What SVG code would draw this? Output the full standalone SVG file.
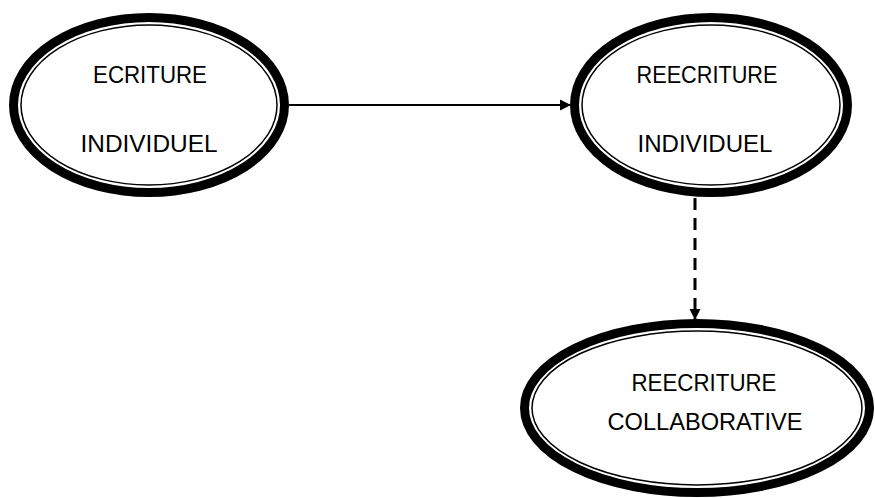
<svg xmlns="http://www.w3.org/2000/svg" width="875" height="498" viewBox="0 0 875 498">
<style>
.outer{fill:#fff;stroke:#000;stroke-width:9}
.inner{fill:none;stroke:#000;stroke-width:1.5}
.lbl{font-family:"Liberation Sans",Arial,sans-serif;font-size:24px;fill:#000;text-anchor:middle}
.conn{fill:none;stroke:#000;stroke-width:2}
</style>
<defs>
<marker id="ah" viewBox="0 0 10 10" refX="10" refY="5" markerWidth="11" markerHeight="12" markerUnits="userSpaceOnUse" orient="auto">
<path d="M0,0 L10,5 L0,10 z" fill="#000"/>
</marker>
<marker id="ah2" viewBox="0 0 10 10" refX="10" refY="5" markerWidth="11" markerHeight="16" markerUnits="userSpaceOnUse" orient="auto">
<path d="M0,0 L10,5 L0,10 z" fill="#000"/>
</marker>
</defs>
<g id="connectors">
<line class="conn" x1="289" y1="105" x2="571" y2="105" marker-end="url(#ah)"/>
<line class="conn" x1="695" y1="198" x2="695" y2="320" style="stroke-width:3;stroke-dasharray:12 8" marker-end="url(#ah2)"/>
</g>
<g id="node-ecriture">
<ellipse class="outer" cx="149" cy="105" rx="135.5" ry="87.5"/>
<ellipse class="inner" cx="149" cy="105" rx="128" ry="80"/>
<text class="lbl" x="150" y="83" textLength="114" lengthAdjust="spacingAndGlyphs">ECRITURE</text>
<text class="lbl" x="149" y="152" textLength="137" lengthAdjust="spacingAndGlyphs">INDIVIDUEL</text>
</g>
<g id="node-reecriture">
<ellipse class="outer" cx="711" cy="105" rx="136.5" ry="87.5"/>
<ellipse class="inner" cx="711" cy="105" rx="129" ry="80"/>
<text class="lbl" x="707" y="83" textLength="141" lengthAdjust="spacingAndGlyphs">REECRITURE</text>
<text class="lbl" x="705" y="152" textLength="135" lengthAdjust="spacingAndGlyphs">INDIVIDUEL</text>
</g>
<g id="node-collaborative">
<ellipse class="outer" cx="697" cy="408" rx="172.5" ry="84.5"/>
<ellipse class="inner" cx="697" cy="408" rx="165" ry="77"/>
<text class="lbl" x="704" y="391" textLength="145" lengthAdjust="spacingAndGlyphs">REECRITURE</text>
<text class="lbl" x="705" y="430" textLength="195" lengthAdjust="spacingAndGlyphs">COLLABORATIVE</text>
</g>
</svg>
